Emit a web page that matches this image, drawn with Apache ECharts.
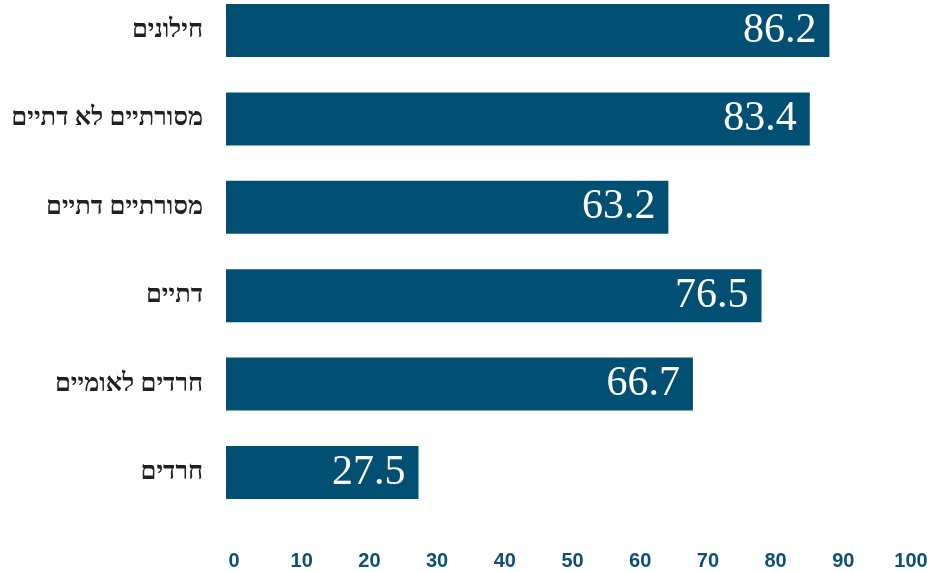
<!DOCTYPE html>
<html>
<head>
<meta charset="utf-8">
<script src="https://cdn.jsdelivr.net/npm/echarts@6/dist/echarts.min.js"></script>
<style>html,body{margin:0;padding:0;background:#fff}#c{width:933px;height:572px}</style>
</head>
<body>
<div id="c"></div>
<script>
const categories = ['חילונים', 'מסורתיים לא דתיים', 'מסורתיים דתיים', 'דתיים', 'חרדים לאומיים', 'חרדים'];
const values = [86.2, 83.4, 63.2, 76.5, 66.7, 27.5];
const tickMin = 0, tickMax = 100, tickStep = 10;

const chart = echarts.init(document.getElementById('c'), null, {renderer: 'canvas'});
chart.setOption({
  animation: false,
  backgroundColor: '#ffffff',
  grid: [
    {left: 226, width: 700, top: 30.5, height: 442},
    {left: 234, width: 677, top: 500, height: 48}
  ],
  xAxis: [
    {gridIndex: 0, type: 'value', min: tickMin, max: tickMax, show: false},
    {gridIndex: 1, type: 'value', min: tickMin, max: tickMax, interval: tickStep,
     axisLine: {show: false}, axisTick: {show: false}, splitLine: {show: false},
     axisLabel: {margin: 3, fontFamily: 'Liberation Sans Narrow, Liberation Sans', fontWeight: 'bold', fontSize: 20, color: '#0c5075'}}
  ],
  yAxis: [
    {gridIndex: 0, type: 'category', data: categories, inverse: true, boundaryGap: false,
     axisLine: {show: false}, axisTick: {show: false}, splitLine: {show: false},
     axisLabel: {margin: 23, padding: [5, 0, 0, 0], fontFamily: 'Liberation Serif, DejaVu Serif', fontWeight: 'bold', fontSize: 25.5, color: '#231f20'}},
    {gridIndex: 1, type: 'value', show: false}
  ],
  series: [{
    type: 'bar', xAxisIndex: 0, yAxisIndex: 0,
    data: values, barWidth: 53,
    itemStyle: {color: '#015073'},
    label: {show: true, position: 'insideRight', distance: 13,
      fontFamily: 'Liberation Serif', fontSize: 42, color: '#ffffff',
      formatter: p => p.value.toFixed(1)}
  }]
});
</script>
</body>
</html>
